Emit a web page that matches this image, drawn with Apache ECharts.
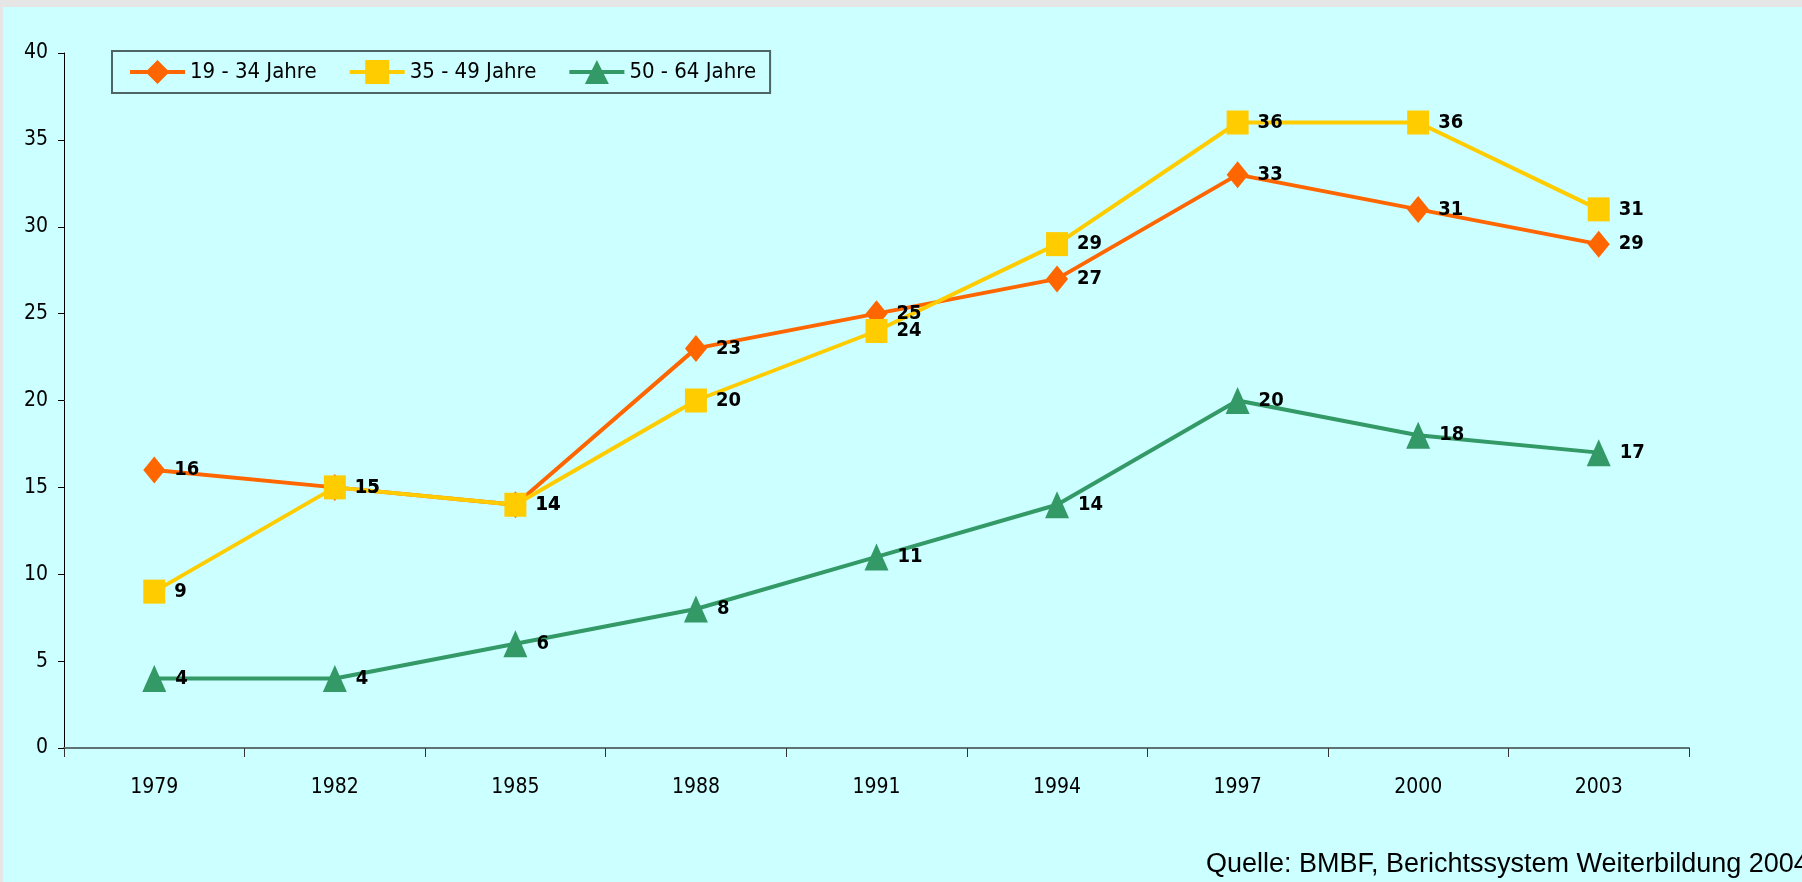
<!DOCTYPE html>
<html>
<head>
<meta charset="utf-8">
<script src="https://cdn.jsdelivr.net/npm/echarts@6/dist/echarts.min.js"></script>
<style>
  html, body { margin: 0; padding: 0; background: #e6e6e6; }
  #main { position: absolute; left: 3px; top: 7px; width: 1799px; height: 875px; }
</style>
</head>
<body>
<div id="main"></div>
<script type="text/javascript">
// Jahre
var years = ["1979", "1982", "1985", "1988", "1991", "1994", "1997", "2000", "2003"];
// Teilnahmequoten nach Altersgruppe
var jung = [16, 15, 14, 23, 25, 27, 33, 31, 29];     // 19 - 34 Jahre
var mittel = [9, 15, 14, 20, 24, 29, 36, 36, 31];    // 35 - 49 Jahre
var alt = [4, 4, 6, 8, 11, 14, 20, 18, 17];          // 50 - 64 Jahre
var seriesNames = ["19 - 34 Jahre", "35 - 49 Jahre", "50 - 64 Jahre"];

var FONT = '"DejaVu Sans Condensed", "DejaVu Sans", sans-serif';

function makeSeries(name, data, color, symbol, size) {
  return {
    name: name,
    type: "line",
    data: data,
    symbol: symbol,
    symbolSize: size,
    lineStyle: { color: color, width: 4 },
    itemStyle: { color: color, opacity: 1 },
    label: {
      show: true,
      position: "right",
      distance: 9,
      color: "#000",
      fontFamily: FONT,
      fontSize: 20,
      fontWeight: "bold"
    },
    emphasis: { disabled: true },
    animation: false
  };
}

var chart = echarts.init(document.getElementById("main"));
var option = {
  backgroundColor: "#ccffff",
  textStyle: { fontFamily: FONT },
  legend: {
    left: 109,
    top: 44,
    padding: [9, 14, 9, 16],
    borderColor: "#4f6464",
    borderWidth: 2,
    itemWidth: 55,
    itemHeight: 30,
    itemGap: 31,
    lineStyle: { width: 4 },
    textStyle: { color: "#000", fontSize: 22, fontFamily: FONT },
    data: seriesNames
  },
  grid: {
    left: 61,
    right: 113,
    top: 46,
    bottom: 134
  },
  xAxis: {
    type: "category",
    data: years,
    boundaryGap: true,
    axisLine: { lineStyle: { color: "#5f7373", width: 2 } },
    axisTick: { show: true, length: 9, lineStyle: { color: "#333", width: 1 } },
    axisLabel: { color: "#000", fontSize: 21, margin: 29, fontFamily: FONT },
    splitLine: { show: false }
  },
  yAxis: {
    type: "value",
    min: 0,
    max: 40,
    interval: 5,
    axisLine: { show: true, lineStyle: { color: "#000", width: 1 } },
    axisTick: { show: true, length: 6, lineStyle: { color: "#000" } },
    axisLabel: { color: "#000", fontSize: 21, margin: 16, fontFamily: FONT },
    splitLine: { show: false }
  },
  series: [
    makeSeries(seriesNames[0], jung, "#ff6600", "diamond", [22, 27]),
    makeSeries(seriesNames[1], mittel, "#ffcc00", "rect", [22, 24]),
    makeSeries(seriesNames[2], alt, "#339966", "triangle", [24, 27])
  ],
  graphic: [
    {
      type: "text",
      left: 1203,
      top: 844,
      style: {
        text: "Quelle: BMBF, Berichtssystem Weiterbildung 2004",
        fill: "#000",
        font: '27px "Liberation Sans", Arial, sans-serif'
      }
    }
  ]
};
chart.setOption(option);
</script>
</body>
</html>
